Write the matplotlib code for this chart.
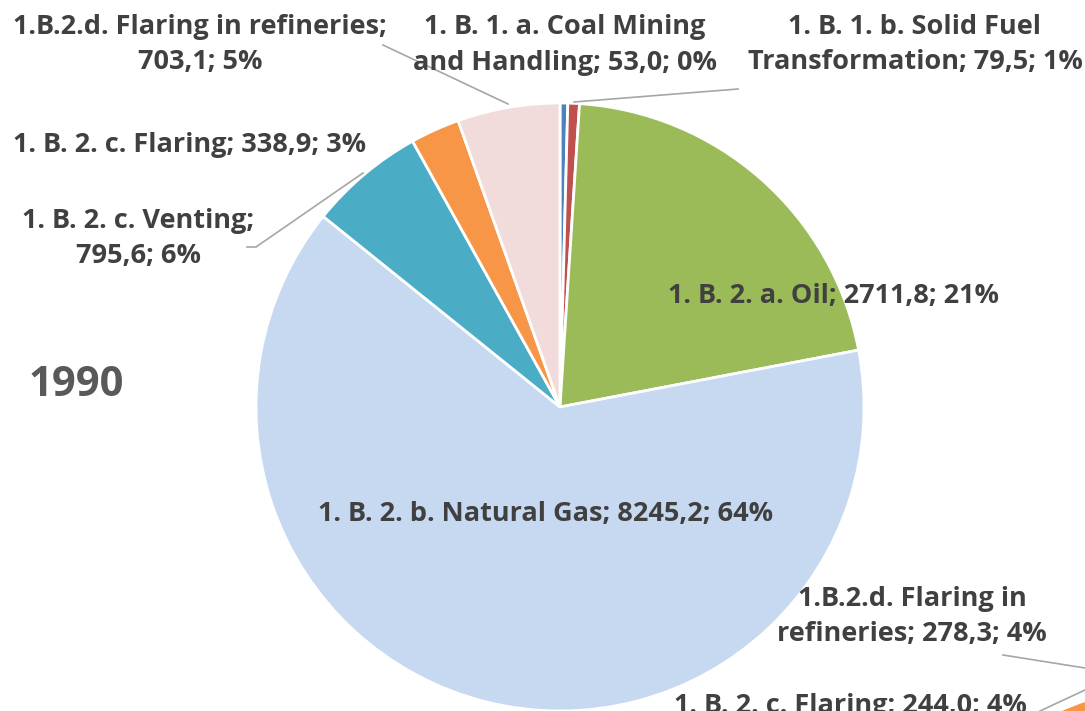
import matplotlib
matplotlib.use("Agg")
import matplotlib.pyplot as plt

# 1990 pie
categories = [
    "1. B. 1. a. Coal Mining and Handling",
    "1. B. 1. b. Solid Fuel Transformation",
    "1. B. 2. a. Oil",
    "1. B. 2. b. Natural Gas",
    "1. B. 2. c. Venting",
    "1. B. 2. c. Flaring",
    "1.B.2.d. Flaring in refineries",
]
values_1990 = [53.0, 79.5, 2711.8, 8245.2, 795.6, 338.9, 703.1]
colors = ["#4F81BD", "#C0504D", "#9BBB59", "#C6D9F1", "#4BACC6", "#F79646", "#F2DCDB"]

# second pie, mostly outside the crop (only two labels readable)
values_2 = [10.0, 60.0, 1500.0, 4000.0, 600.0, 244.0, 278.3]

# how each label wraps
label_fmt_1990 = [
    "1. B. 1. a. Coal Mining\nand Handling; {v}; {p}",
    "1. B. 1. b. Solid Fuel\nTransformation; {v}; {p}",
    "1. B. 2. a. Oil; {v}; {p}",
    "1. B. 2. b. Natural Gas; {v}; {p}",
    "1. B. 2. c. Venting;\n{v}; {p}",
    "1. B. 2. c. Flaring; {v}; {p}",
    "1.B.2.d. Flaring in refineries;\n{v}; {p}",
]
label_fmt_2 = {
    5: "1. B. 2. c. Flaring; {v}; {p}",
    6: "1.B.2.d. Flaring in\nrefineries; {v}; {p}",
}

W, H = 1085, 711
TXT = "#404040"
LINE = "#A6A6A6"
FONT = ["Open Sans", "DejaVu Sans"]


def fmt(vals, i, template):
    tot = sum(vals)
    v = f"{vals[i]:.1f}".replace(".", ",")
    p = f"{round(100 * vals[i] / tot):d}%"
    return template.format(v=v, p=p)


def Y(y):
    return H - y


fig = plt.figure(figsize=(W / 100, H / 100), dpi=100)
ax = fig.add_axes([0, 0, 1, 1])

ax.pie(values_1990, colors=colors, startangle=90, counterclock=False,
       center=(560, Y(407)), radius=304, frame=True,
       wedgeprops=dict(edgecolor="white", linewidth=2))
ax.pie(values_2, colors=colors, startangle=90, counterclock=False,
       center=(1184, Y(988)), radius=304, frame=True,
       wedgeprops=dict(edgecolor="white", linewidth=2))

ax.set_xlim(0, W)
ax.set_ylim(0, H)
ax.set_aspect("equal")
ax.axis("off")

kw = dict(color=TXT, fontsize=19.5, fontweight="bold", family=FONT,
          ha="center", va="center", linespacing=1.45)

pos_1990 = [(565, 45), (915, 45), (834, 296), (546, 514),
            (138, 238), (190, 145), (200, 44)]
for i, (x, y) in enumerate(pos_1990):
    ax.text(x, Y(y), fmt(values_1990, i, label_fmt_1990[i]), **kw)

pos_2 = {6: (912, 616), 5: (850, 706)}
for i, (x, y) in pos_2.items():
    ax.text(x, Y(y), fmt(values_2, i, label_fmt_2[i]), **kw)

ax.text(76, Y(386), "1990", color="#595959", fontsize=30, fontweight="bold",
        family=FONT, ha="center", va="center")

# leader lines
leaders = [
    [(383, 45), (508, 104)],
    [(574, 102), (738, 89)],
    [(247, 247), (256, 247), (363, 173)],
    [(1003, 655), (1085, 668)],
    [(1040, 711), (1085, 690)],
]
for pts in leaders:
    ax.plot([p[0] for p in pts], [Y(p[1]) for p in pts], color=LINE, lw=1.2,
            clip_on=True)

fig.savefig("out.png", dpi=100)
